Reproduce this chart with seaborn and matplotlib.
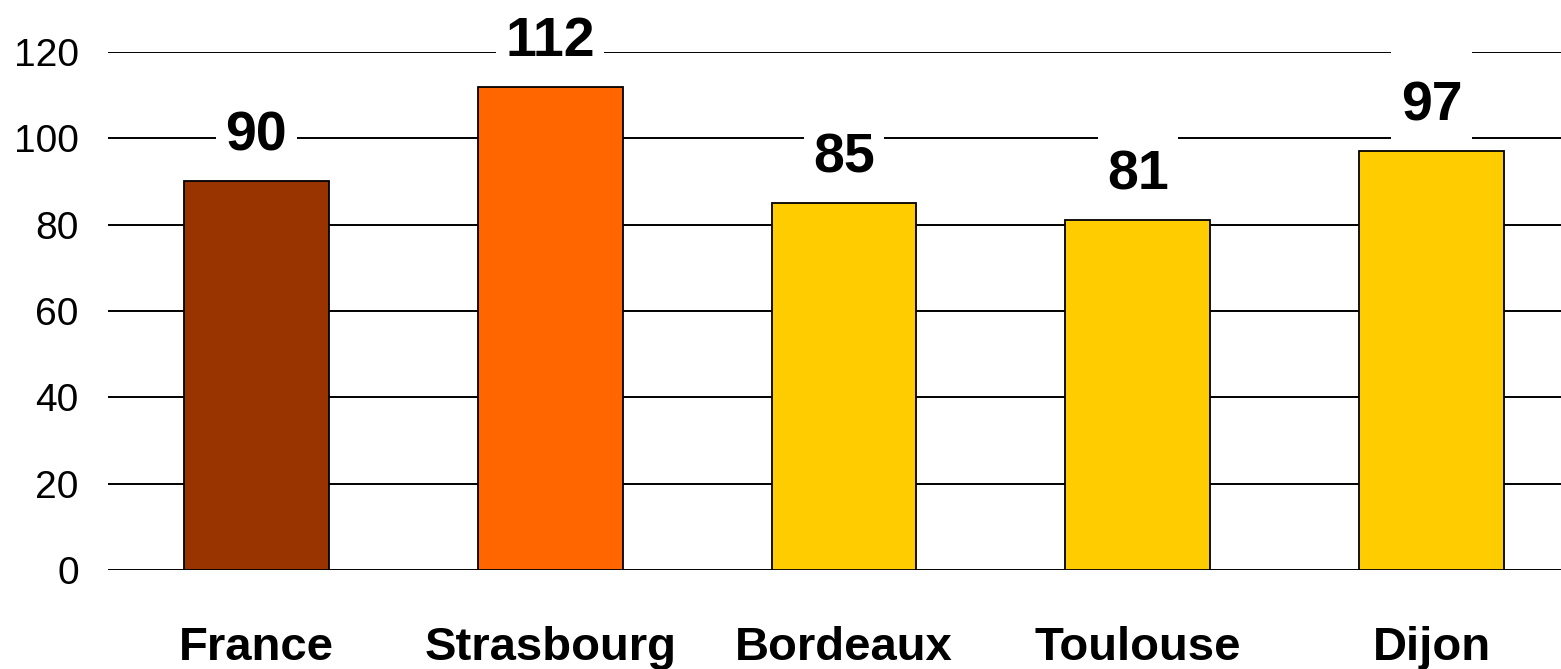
import pandas as pd
import matplotlib.pyplot as plt
from matplotlib.path import Path
import seaborn as sns

# Donnees
villes = ['France', 'Strasbourg', 'Bordeaux', 'Toulouse', 'Dijon']
valeurs = [90, 112, 85, 81, 97]
couleurs = ['#993300', '#FF6600', '#FFCC00', '#FFCC00', '#FFCC00']
graduations = [0, 20, 40, 60, 80, 100, 120]

df = pd.DataFrame({'ville': villes, 'valeur': valeurs})

sns.set_theme(style='white', rc={'text.color': 'black',
                                 'xtick.color': 'black',
                                 'ytick.color': 'black'})
plt.rcParams['font.family'] = ['Liberation Sans', 'DejaVu Sans']


# fond blanc des etiquettes, plus haut au-dessus qu'en dessous
def boite_etiquette(x0, y0, width, height, mutation_size):
    g = 0.17 * mutation_size
    h = 0.55 * mutation_size
    b = 0.2 * mutation_size
    x1, x2 = x0 - g, x0 + width + g
    y1, y2 = y0 - b, y0 + height + h
    return Path([(x1, y1), (x2, y1), (x2, y2), (x1, y2), (x1, y1)], closed=True)


fig = plt.figure(figsize=(15.61, 6.69), dpi=100)
ax = fig.add_axes([0.0692, 0.148, 0.9308, 0.7743])

sns.barplot(data=df, x='ville', y='valeur', hue='ville',
            palette=dict(zip(villes, couleurs)), legend=False,
            width=0.493, edgecolor='black', linewidth=1.3,
            saturation=1, ax=ax)

ax.set_ylim(0, 120)
ax.set_xlim(-0.505, 4.44)
ax.set_yticks(graduations)
ax.yaxis.grid(True, color='black', linewidth=1.4)
ax.set_axisbelow(True)
sns.despine(ax=ax, left=True, bottom=True)

ax.tick_params(axis='y', length=0, pad=21, labelsize=28)
ax.tick_params(axis='x', length=0, pad=40, labelsize=34)
for lab in ax.get_xticklabels():
    lab.set_fontweight('bold')
ax.set_xlabel('')
ax.set_ylabel('')

# Etiquettes de valeurs
for i, v in enumerate(valeurs):
    ax.annotate(f'{v}', (i, v), xytext=(0, 22), textcoords='offset points',
                ha='center', va='baseline', fontsize=40, fontweight='bold',
                color='black', zorder=5,
                bbox=dict(boxstyle=boite_etiquette, fc='white', ec='none'))

fig.savefig('out.png', dpi=100, facecolor='white')
